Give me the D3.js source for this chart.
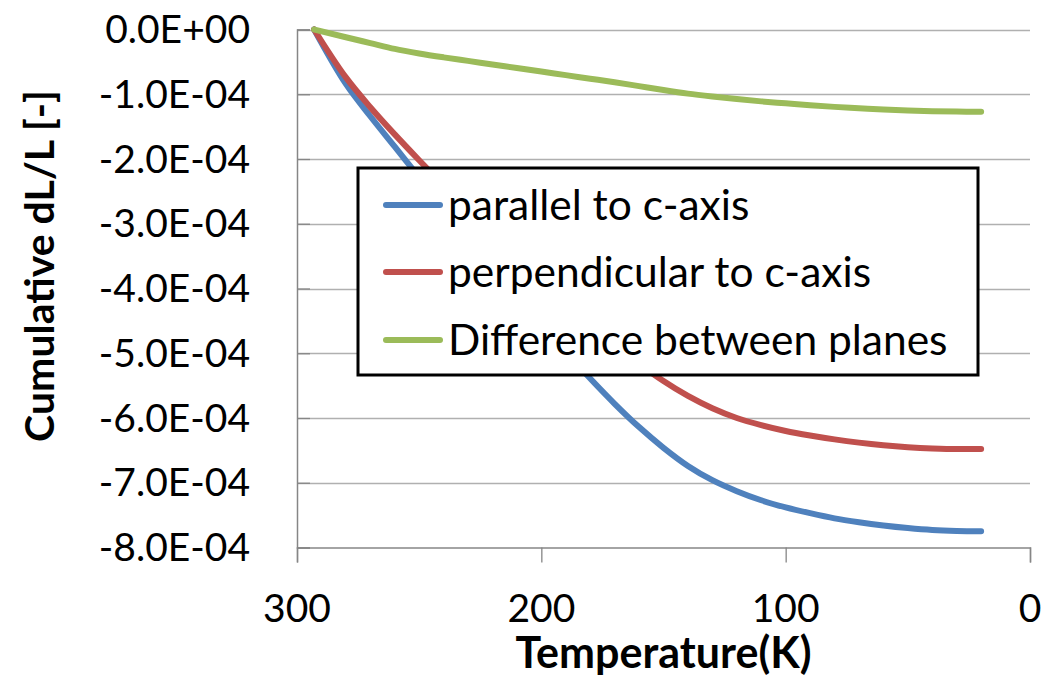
<!DOCTYPE html>
<html>
<head>
<meta charset="utf-8">
<script src="https://cdn.jsdelivr.net/npm/d3@7"></script>
<style>
  html, body { margin: 0; padding: 0; background: #ffffff; }
  svg { display: block; }
</style>
</head>
<body>
<svg id="chart" width="1047" height="678"></svg>
<script>
// ---- data ----
const temperatures = [293, 280, 270, 260, 250, 240, 230, 220, 210, 200, 190, 180, 170, 160, 150, 140, 130, 120, 110, 100, 90, 80, 70, 60, 50, 40, 30, 20];
const parallelValues = [0, -0.84e-4, -1.34e-4, -1.81e-4, -2.28e-4, -2.75e-4, -3.21e-4, -3.67e-4, -4.12e-4, -4.55e-4, -4.98e-4, -5.39e-4, -5.78e-4, -6.14e-4, -6.46e-4, -6.74e-4, -6.96e-4, -7.13e-4, -7.27e-4, -7.38e-4, -7.47e-4, -7.55e-4, -7.61e-4, -7.66e-4, -7.70e-4, -7.73e-4, -7.745e-4, -7.75e-4];
const perpendicularValues = [0, -0.74e-4, -1.20e-4, -1.62e-4, -2.02e-4, -2.41e-4, -2.79e-4, -3.16e-4, -3.52e-4, -3.87e-4, -4.21e-4, -4.54e-4, -4.86e-4, -5.16e-4, -5.43e-4, -5.66e-4, -5.85e-4, -6.00e-4, -6.11e-4, -6.20e-4, -6.27e-4, -6.33e-4, -6.38e-4, -6.42e-4, -6.45e-4, -6.47e-4, -6.48e-4, -6.48e-4];
const differenceValues = [0, -0.12e-4, -0.21e-4, -0.30e-4, -0.37e-4, -0.43e-4, -0.485e-4, -0.54e-4, -0.595e-4, -0.65e-4, -0.705e-4, -0.76e-4, -0.815e-4, -0.875e-4, -0.935e-4, -0.99e-4, -1.035e-4, -1.075e-4, -1.11e-4, -1.14e-4, -1.17e-4, -1.195e-4, -1.215e-4, -1.235e-4, -1.25e-4, -1.262e-4, -1.268e-4, -1.27e-4];
const seriesNames = ["parallel to c-axis", "perpendicular to c-axis", "Difference between planes"];
const seriesColors = ["#4F81BD", "#C0504D", "#9BBB59"];
const xTicks = [300, 200, 100, 0];
const yTicks = [0, -1e-4, -2e-4, -3e-4, -4e-4, -5e-4, -6e-4, -7e-4, -8e-4];
const yTickLabels = ["0.0E+00", "-1.0E-04", "-2.0E-04", "-3.0E-04", "-4.0E-04", "-5.0E-04", "-6.0E-04", "-7.0E-04", "-8.0E-04"];
const xTitle = "Temperature(K)";
const yTitle = "Cumulative dL/L [-]";

// ---- layout ----
const W = 1047, H = 678;
const plot = { left: 297, right: 1030, top: 29.5, bottom: 547.5 };
const FONT = "Lato, 'Liberation Sans', sans-serif";

const svg = d3.select("#chart");
const x = d3.scaleLinear().domain([300, 0]).range([plot.left, plot.right]);
const y = d3.scaleLinear().domain([0, -8e-4]).range([plot.top, plot.bottom]);

// gridlines
svg.append("g")
  .selectAll("line")
  .data(yTicks.filter(d => d !== -8e-4))
  .join("line")
  .attr("x1", plot.left).attr("x2", plot.right)
  .attr("y1", d => Math.round(y(d)) + 0.5).attr("y2", d => Math.round(y(d)) + 0.5)
  .attr("stroke", "#b0b0b0").attr("stroke-width", 1.3);

// y axis (inside ticks)
const yAxis = d3.axisRight(y).tickValues(yTicks).tickSize(13).tickFormat("");
const gy = svg.append("g").attr("transform", `translate(${plot.left},0)`).call(yAxis);
gy.select(".domain").attr("stroke", "#868686").attr("stroke-width", 1.5);
gy.selectAll(".tick line").attr("stroke", "#868686").attr("stroke-width", 1.3);

// y tick labels
svg.append("g")
  .selectAll("text")
  .data(yTicks)
  .join("text")
  .attr("x", 250)
  .attr("y", d => y(d))
  .attr("dy", "0.35em")
  .attr("text-anchor", "end")
  .attr("font-family", FONT)
  .attr("font-size", 39)
  .attr("fill", "#000")
  .text((d, i) => yTickLabels[i]);

// x axis (outside ticks)
const xAxis = d3.axisBottom(x).tickValues(xTicks).tickSize(15).tickFormat("");
const gx = svg.append("g").attr("transform", `translate(0,${plot.bottom})`).call(xAxis);
gx.select(".domain").attr("stroke", "#868686").attr("stroke-width", 1.5);
gx.selectAll(".tick line").attr("stroke", "#868686").attr("stroke-width", 1.3);

svg.append("g")
  .selectAll("text")
  .data(xTicks)
  .join("text")
  .attr("x", d => x(d))
  .attr("y", 622)
  .attr("text-anchor", "middle")
  .attr("font-family", FONT)
  .attr("font-size", 39)
  .attr("fill", "#000")
  .text(d => d);

// axis titles
svg.append("text")
  .attr("x", (plot.left + plot.right) / 2)
  .attr("y", 668)
  .attr("text-anchor", "middle")
  .attr("font-family", FONT)
  .attr("font-weight", "bold")
  .attr("font-size", 43)
  .attr("fill", "#000")
  .text(xTitle);

svg.append("text")
  .attr("transform", `translate(54,${(85 + 447) / 2}) rotate(-90)`)
  .attr("text-anchor", "middle")
  .attr("font-family", FONT)
  .attr("font-weight", "bold")
  .attr("font-size", 41)
  .attr("fill", "#000")
  .text(yTitle);

// lines
const seriesValues = [parallelValues, perpendicularValues, differenceValues];
const line = d3.line()
  .x(d => x(d[0]))
  .y(d => y(d[1]))
  .curve(d3.curveMonotoneX);

svg.append("g")
  .selectAll("path")
  .data(seriesValues)
  .join("path")
  .attr("d", vals => line(temperatures.map((t, i) => [t, vals[i]])))
  .attr("fill", "none")
  .attr("stroke", (d, i) => seriesColors[i])
  .attr("stroke-width", 6)
  .attr("stroke-linecap", "round")
  .attr("stroke-linejoin", "round");

// legend
const lg = svg.append("g");
lg.append("rect")
  .attr("x", 358).attr("y", 168)
  .attr("width", 620).attr("height", 207)
  .attr("fill", "#fff")
  .attr("stroke", "#000")
  .attr("stroke-width", 3);

const rowY = [205, 272, 340];
const items = lg.selectAll("g.item")
  .data(seriesNames)
  .join("g")
  .attr("class", "item")
  .attr("transform", (d, i) => `translate(0,${rowY[i]})`);
items.append("line")
  .attr("x1", 386).attr("x2", 440)
  .attr("y1", 0).attr("y2", 0)
  .attr("stroke", (d, i) => seriesColors[i])
  .attr("stroke-width", 6)
  .attr("stroke-linecap", "round");
items.append("text")
  .attr("x", 448)
  .attr("y", 0)
  .attr("dy", "0.35em")
  .attr("font-family", FONT)
  .attr("font-size", 42.5)
  .attr("fill", "#000")
  .text(d => d);
</script>
</body>
</html>
